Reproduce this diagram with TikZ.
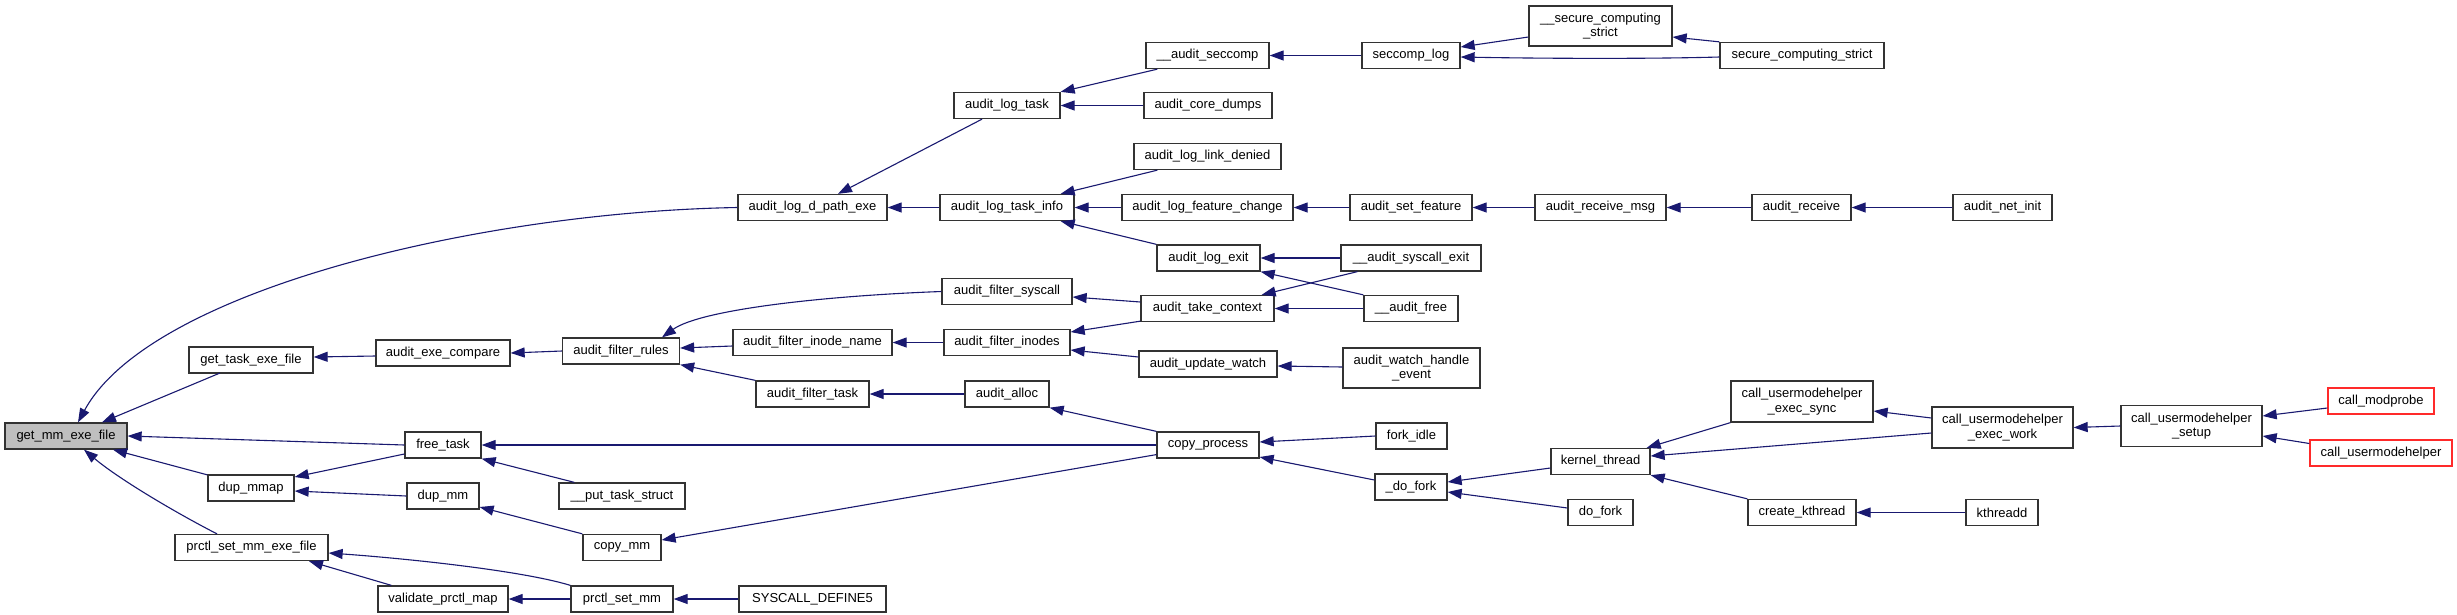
\documentclass[tikz,border=0pt]{standalone}
\usepackage{fontspec}
\setmainfont{Liberation Sans}
\usetikzlibrary{arrows.meta,calc}
\definecolor{edgec}{HTML}{191970}
\definecolor{nodegray}{HTML}{BFBFBF}
\definecolor{boxline}{HTML}{333333}
\definecolor{redline}{HTML}{FF2A2A}
\tikzset{
 fn/.style={draw=boxline, line width=1.3pt, fill=white, inner sep=0pt, align=center, font=\fontsize{13}{14.5}\selectfont},
 fnroot/.style={fn, fill=nodegray},
 fnred/.style={fn, draw=redline},
 sz/.style 2 args={minimum width=#1pt, minimum height=#2pt},
 call/.style={draw=edgec, line width=1.1pt, -{Triangle[length=14pt,width=10pt]}},
}
\begin{document}
\begin{tikzpicture}[x=1pt,y=-1pt]
\useasboundingbox[fill=white] (0,0) rectangle (2457,614);
% rank 1
\node[fnroot, sz={122}{26}] (getmm) at (66,436) {get\_mm\_exe\_file};
% rank 2
\node[fn, sz={124}{26}] (gettask) at (251,360) {get\_task\_exe\_file};
\node[fn, sz={86}{26}] (dupmmap) at (251,488) {dup\_mmap};
\node[fn, sz={153}{26}] (prctlexe) at (251.5,547.5) {prctl\_set\_mm\_exe\_file};
% rank 3
\node[fn, sz={134}{26}] (exec) at (443,353) {audit\_exe\_compare};
\node[fn, sz={76}{26}] (freetask) at (443,445) {free\_task};
\node[fn, sz={72}{26}] (dupmm) at (443,496) {dup\_mm};
\node[fn, sz={130}{26}] (validate) at (443,599) {validate\_prctl\_map};
% rank 4
\node[fn, sz={117}{26}] (filterrules) at (621,351) {audit\_filter\_rules};
\node[fn, sz={126}{26}] (puttask) at (622,496) {\_\_put\_task\_struct};
\node[fn, sz={78}{26}] (copymm) at (622,547.5) {copy\_mm};
\node[fn, sz={102}{26}] (prctlsetmm) at (622,599) {prctl\_set\_mm};
% rank 5
\node[fn, sz={149}{26}] (dpath) at (812.5,207.5) {audit\_log\_d\_path\_exe};
\node[fn, sz={159}{26}] (inodename) at (812.5,342.5) {audit\_filter\_inode\_name};
\node[fn, sz={113}{26}] (filtertask) at (812.5,394) {audit\_filter\_task};
\node[fn, sz={147}{26}] (syscalldef) at (812.5,599) {SYSCALL\_DEFINE5};
% rank 6
\node[fn, sz={106}{26}] (logtask) at (1007,105.5) {audit\_log\_task};
\node[fn, sz={134}{26}] (logtaskinfo) at (1007,207.5) {audit\_log\_task\_info};
\node[fn, sz={130}{26}] (filtersyscall) at (1007,291.5) {audit\_filter\_syscall};
\node[fn, sz={126}{26}] (filterinodes) at (1007,342.5) {audit\_filter\_inodes};
\node[fn, sz={84}{26}] (alloc) at (1007,394) {audit\_alloc};
% rank 7
\node[fn, sz={123}{26}] (seccomp) at (1207.5,55.5) {\_\_audit\_seccomp};
\node[fn, sz={128}{26}] (coredumps) at (1208,105.5) {audit\_core\_dumps};
\node[fn, sz={147}{26}] (linkdenied) at (1207.5,156.5) {audit\_log\_link\_denied};
\node[fn, sz={171}{26}] (featurechange) at (1207.5,207.5) {audit\_log\_feature\_change};
\node[fn, sz={103}{26}] (logexit) at (1208.5,258) {audit\_log\_exit};
\node[fn, sz={133}{26}] (takecontext) at (1207.5,308.5) {audit\_take\_context};
\node[fn, sz={138}{26}] (updatewatch) at (1208,364) {audit\_update\_watch};
\node[fn, sz={102}{26}] (copyprocess) at (1208,445) {copy\_process};
% rank 8
\node[fn, sz={98}{26}] (seccomplog) at (1411,55.5) {seccomp\_log};
\node[fn, sz={122}{26}] (setfeature) at (1411,207.5) {audit\_set\_feature};
\node[fn, sz={140}{26}] (syscallexit) at (1411,258) {\_\_audit\_syscall\_exit};
\node[fn, sz={94}{26}] (auditfree) at (1411,308.5) {\_\_audit\_free};
\node[fn, sz={137}{40}] (watchhandle) at (1411.5,368) {audit\_watch\_handle\\\_event};
\node[fn, sz={71}{26}] (forkidle) at (1411.5,436) {fork\_idle};
\node[fn, sz={72}{26}] (dofork_) at (1411,487) {\_do\_fork};
% rank 9
\node[fn, sz={143}{40}] (seccompstrictb) at (1600.5,26) {\_\_secure\_computing\\\_strict};
\node[fn, sz={131}{26}] (receivemsg) at (1600.5,207.5) {audit\_receive\_msg};
\node[fn, sz={99}{26}] (kthread) at (1600.5,461.5) {kernel\_thread};
\node[fn, sz={65}{26}] (dofork) at (1600.5,512.5) {do\_fork};
% rank 10
\node[fn, sz={164}{26}] (seccompstrict) at (1802,55.5) {secure\_computing\_strict};
\node[fn, sz={99}{26}] (receive) at (1801.5,207.5) {audit\_receive};
\node[fn, sz={142}{41}] (execsync) at (1802,401.5) {call\_usermodehelper\\\_exec\_sync};
\node[fn, sz={108}{26}] (createk) at (1802,512.5) {create\_kthread};
% rank 11
\node[fn, sz={99}{26}] (netinit) at (2002.5,207.5) {audit\_net\_init};
\node[fn, sz={141}{41}] (execwork) at (2002.5,427.5) {call\_usermodehelper\\\_exec\_work};
\node[fn, sz={72}{26}] (kthreadd) at (2002,512.5) {kthreadd};
% rank 12
\node[fn, sz={141}{41}] (setup) at (2191.5,426) {call\_usermodehelper\\\_setup};
% rank 13
\node[fnred, sz={106}{26}] (modprobe) at (2381,401) {call\_modprobe};
\node[fnred, sz={142}{26}] (umh) at (2381,453) {call\_usermodehelper};

% edges
\draw[call] (dpath.west) .. controls (480,212) and (150,290) .. ($(getmm.north)+(12,0)$);
\draw[call] ($(gettask)+(-31,13)$) -- ($(getmm.north)+(36,0)$);
\draw[call] (freetask.west) -- (getmm.east);
\draw[call] ($(dupmmap.north west)+(0,0.5)$) -- ($(getmm.south)+(47,0)$);
\draw[call] ($(prctlexe.north)+(-34.5,0)$) .. controls (180,515) and (120,480) .. ($(getmm.south)+(18,0)$);
\draw[call] ($(exec.west)+(0,3)$) -- ($(gettask.east)+(0,-3)$);
\draw[call] (filterrules.west) -- (exec.east);
\draw[call] (filtersyscall.west) .. controls (820,296) and (700,310) .. ($(filterrules.north)+(41,0)$);
\draw[call] ($(inodename.west)+(0,3.5)$) -- ($(filterrules.east)+(0,-3)$);
\draw[call] (filtertask.north west) -- (filterrules.south east);
\draw[call] (copyprocess.west) -- (freetask.east);
\draw[call] ($(puttask.north west)+(16,0)$) -- (freetask.south east);
\draw[call] ($(freetask.west)+(0,9)$) -- ($(dupmmap.east)+(0,-11)$);
\draw[call] (dupmm.west) -- ($(dupmmap.east)+(0,3)$);
\draw[call] (copymm.north west) -- ($(dupmm.east)+(0,11)$);
\draw[call] ($(copyprocess.west)+(0,9.6)$) -- ($(copymm.east)+(0,-7.5)$);
\draw[call] (prctlsetmm.north west) .. controls (520,570) and (400,558) .. ($(prctlexe.east)+(0,5.5)$);
\draw[call] ($(validate.north west)+(14,0)$) -- ($(prctlexe.south)+(57.5,0)$);
\draw[call] (prctlsetmm.west) -- (validate.east);
\draw[call] (syscalldef.west) -- (prctlsetmm.east);
\draw[call] ($(logtask.south)+(-25,0)$) -- ($(dpath.north)+(25.5,0)$);
\draw[call] (logtaskinfo.west) -- (dpath.east);
\draw[call] ($(seccomp.south west)+(12,0)$) -- (logtask.north east);
\draw[call] (coredumps.west) -- (logtask.east);
\draw[call] (seccomplog.west) -- (seccomp.east);
\draw[call] ($(seccompstrictb.west)+(0,11)$) -- ($(seccomplog.east)+(0,-8.5)$);
\draw[call] ($(seccompstrict.west)+(0,1.5)$) .. controls (1650,59) and (1540,58.5) .. ($(seccomplog.east)+(0,1.5)$);
\draw[call] (seccompstrict.north west) -- ($(seccompstrictb.east)+(0,11)$);
\draw[call] ($(linkdenied.south west)+(24,0)$) -- ($(logtaskinfo.north east)+(-14,0)$);
\draw[call] (featurechange.west) -- (logtaskinfo.east);
\draw[call] (logexit.north west) -- ($(logtaskinfo.south east)+(-14,0)$);
\draw[call] (setfeature.west) -- (featurechange.east);
\draw[call] (receivemsg.west) -- (setfeature.east);
\draw[call] (receive.west) -- (receivemsg.east);
\draw[call] (netinit.west) -- (receive.east);
\draw[call] (syscallexit.west) -- (logexit.east);
\draw[call] (auditfree.north west) -- (logexit.south east);
\draw[call] ($(syscallexit.south west)+(17,0)$) -- ($(takecontext.north east)+(-13,0)$);
\draw[call] (auditfree.west) -- (takecontext.east);
\draw[call] ($(takecontext.west)+(0,-6.5)$) -- ($(filtersyscall.east)+(0,5.5)$);
\draw[call] ($(takecontext.south west)+(0,-1)$) -- ($(filterinodes.east)+(0,-10.5)$);
\draw[call] (filterinodes.west) -- (inodename.east);
\draw[call] ($(updatewatch.west)+(0,-7)$) -- ($(filterinodes.east)+(0,7.5)$);
\draw[call] ($(watchhandle.west)+(0,-1)$) -- ($(updatewatch.east)+(0,2)$);
\draw[call] (alloc.west) -- (filtertask.east);
\draw[call] (copyprocess.north west) -- (alloc.south east);
\draw[call] (forkidle.west) -- ($(copyprocess.east)+(0,-3)$);
\draw[call] ($(dofork_.west)+(0,-7)$) -- ($(copyprocess.east)+(0,12)$);
\draw[call] ($(kthread.west)+(0,6.5)$) -- ($(dofork_.east)+(0,-5)$);
\draw[call] ($(dofork.west)+(0,-4.5)$) -- ($(dofork_.east)+(0,5)$);
\draw[call] (execsync.south west) -- ($(kthread.north east)+(-4,0)$);
\draw[call] ($(execwork.west)+(0,5.5)$) -- ($(kthread.east)+(0,-5.5)$);
\draw[call] (createk.north west) -- (kthread.south east);
\draw[call] ($(execwork.west)+(0,-9.5)$) -- ($(execsync.east)+(0,9.5)$);
\draw[call] (setup.west) -- (execwork.east);
\draw[call] (kthreadd.west) -- (createk.east);
\draw[call] ($(modprobe.west)+(0,7)$) -- ($(setup.east)+(0,-10)$);
\draw[call] ($(umh.west)+(0,-9.5)$) -- ($(setup.east)+(0,10)$);
\end{tikzpicture}
\end{document}
